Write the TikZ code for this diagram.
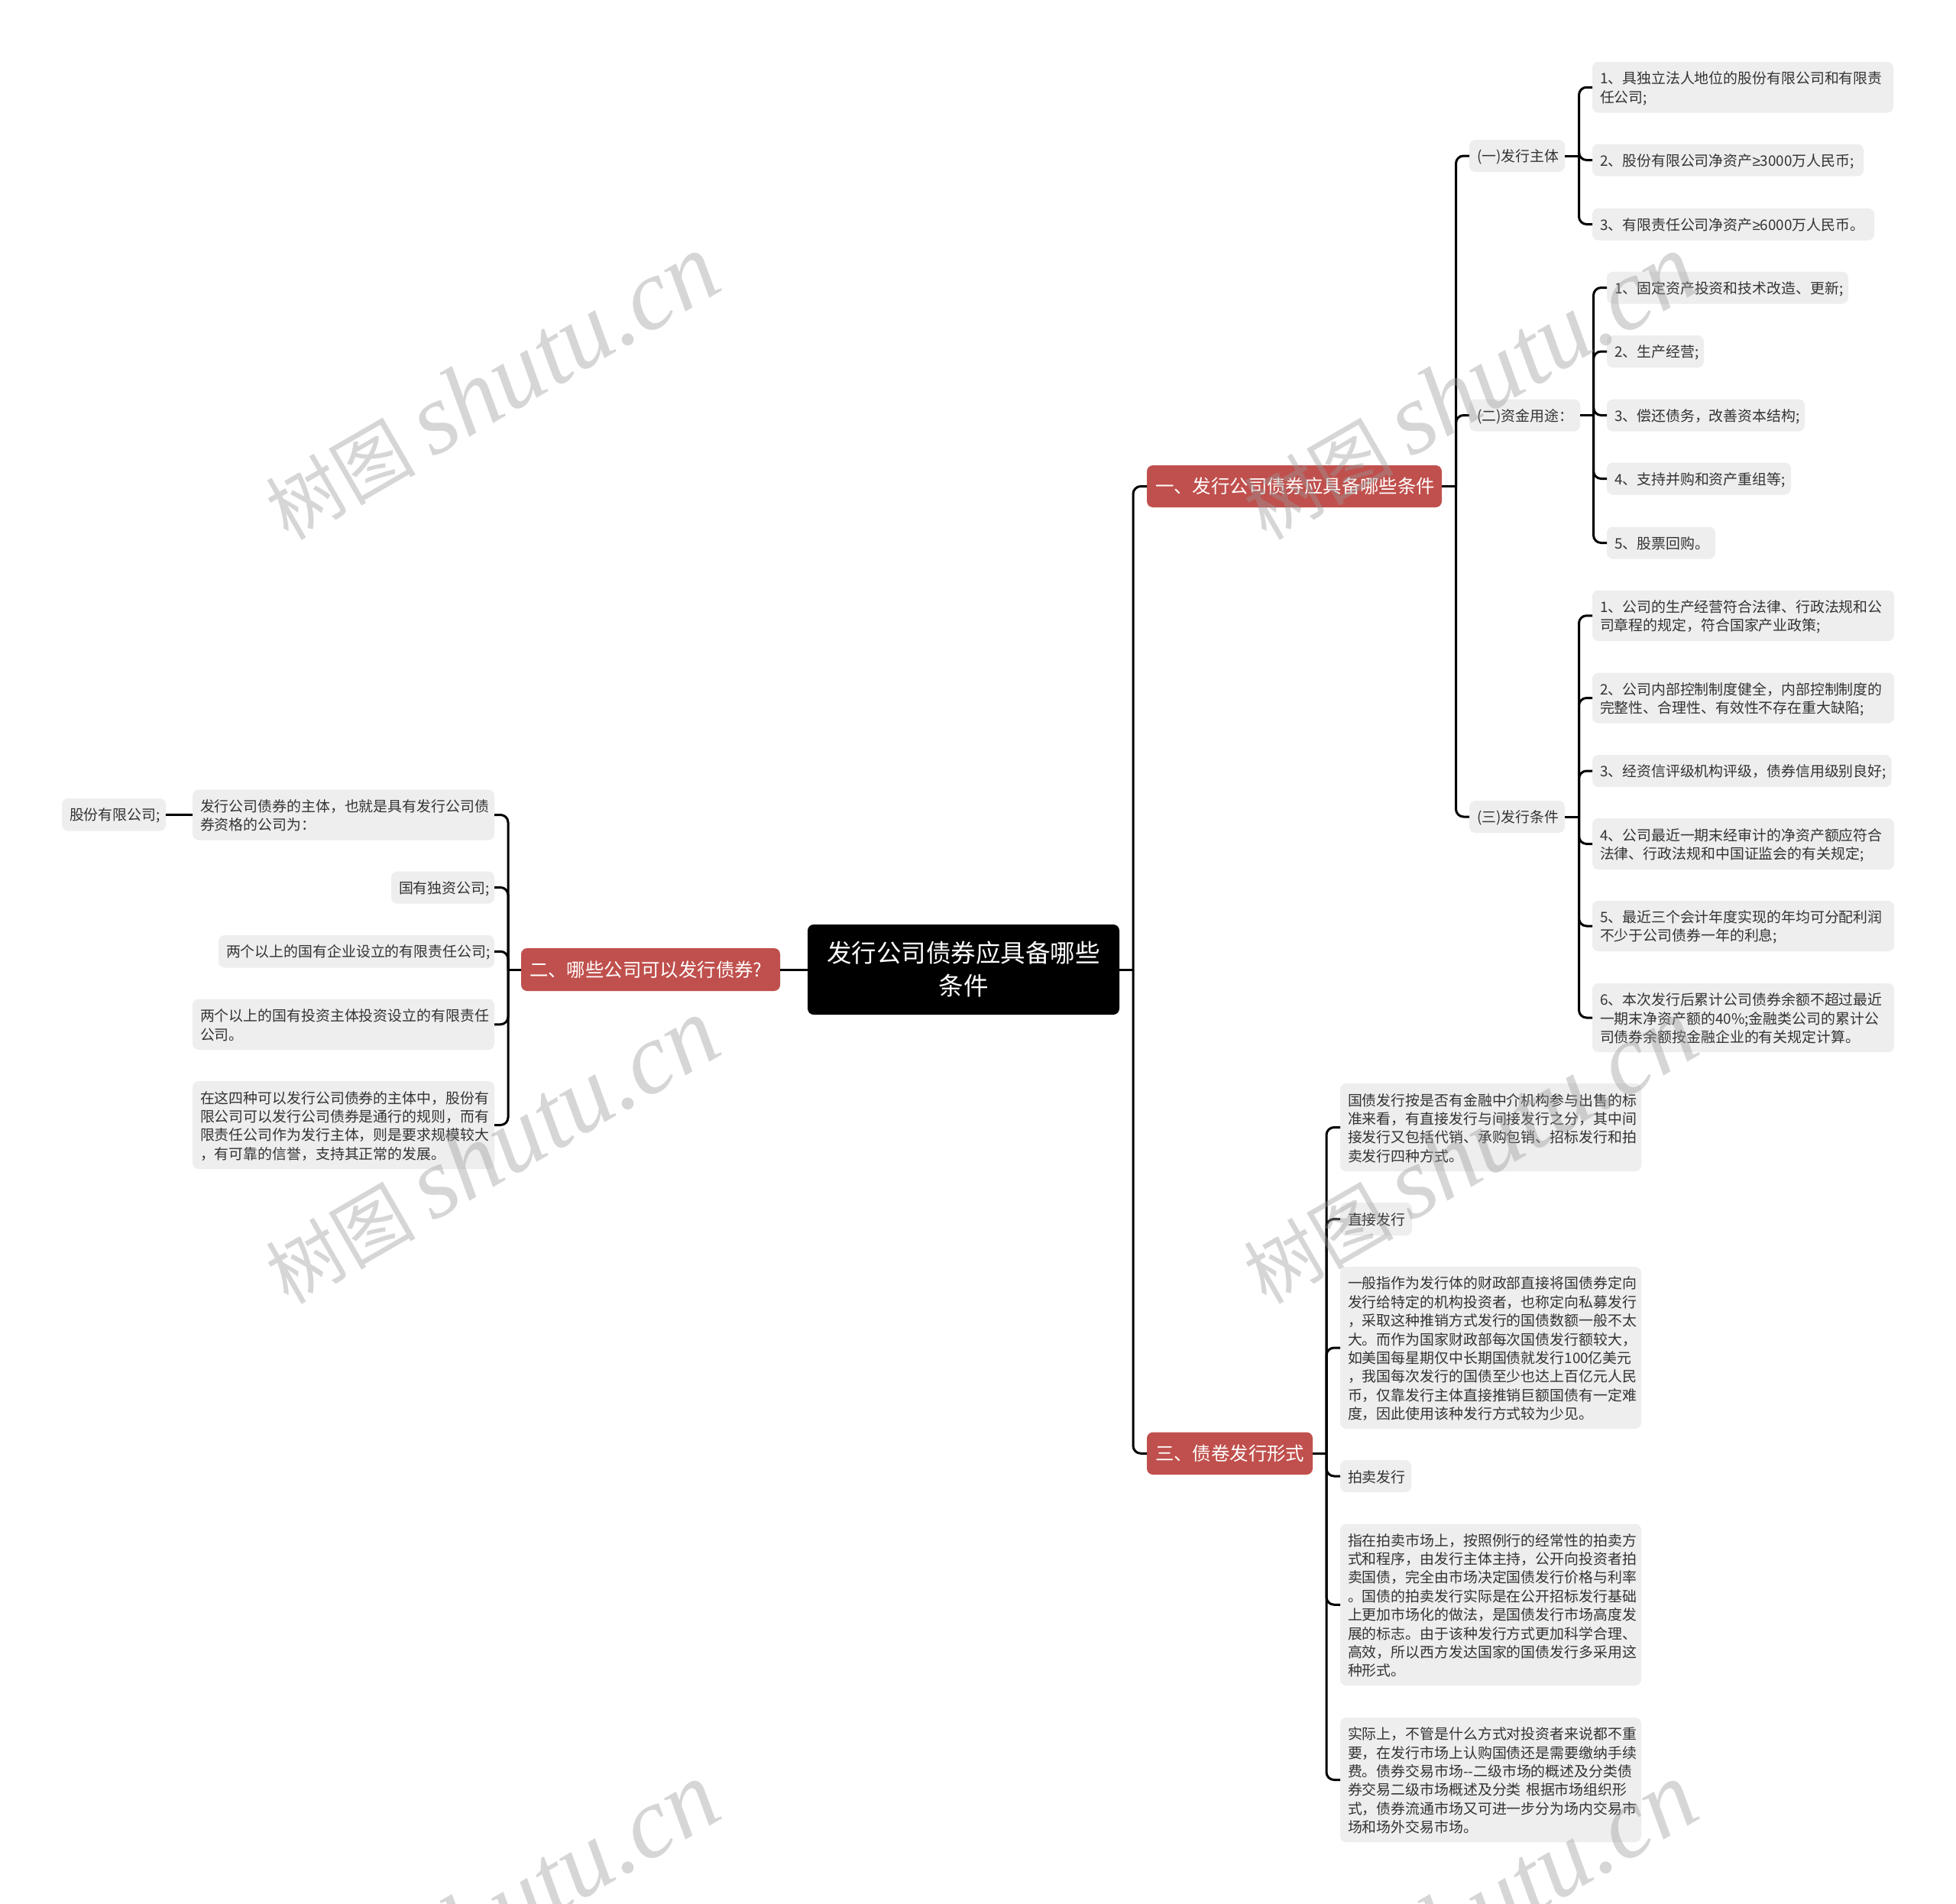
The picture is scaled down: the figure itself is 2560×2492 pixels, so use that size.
\documentclass[tikz,border=0pt]{standalone}
\usepackage{fontspec}
\setmainfont{Noto Sans CJK SC}
\newfontface\wmface{Liberation Serif Italic}
\newfontface\symface{Liberation Sans}
\usetikzlibrary{calc}
\definecolor{leaffill}{HTML}{EEEEEE}
\definecolor{leaftext}{HTML}{333333}
\definecolor{redfill}{HTML}{C0504D}
\definecolor{wmgray}{HTML}{999999}
\hfuzz=50pt
\hbadness=10000
\tikzset{
  boxbase/.style={rounded corners=8pt,inner xsep=0pt,inner ysep=0pt,outer sep=0pt,align=left},
  leafbox/.style={boxbase,fill=leaffill,text=leaftext,font=\fontsize{18.9}{24.4}\selectfont},
  redbox/.style={boxbase,fill=redfill,text=white,font=\fontsize{24.4}{30}\selectfont},
  rootbox/.style={boxbase,fill=black,text=white,align=center,font=\fontsize{32.5}{43}\selectfont},
  linkline/.style={line width=3pt,black},
  wmark/.style={rotate=30,text=wmgray,opacity=0.4,text opacity=0.4,inner sep=0pt}
}
\newcommand{\mmbox}[8]{% style, name, x0,y0,x1,y1,pad,text
  \pgfmathsetmacro{\mmcx}{(#3+#5)/2}
  \pgfmathsetmacro{\mmcy}{(#4+#6)/2}
  \pgfmathsetmacro{\mmw}{#5-#3}
  \pgfmathsetmacro{\mmh}{#6-#4}
  \pgfmathsetmacro{\mmt}{#5-#3-2*#7}
  \node[#1,minimum width=\mmw pt,minimum height=\mmh pt,text width=\mmt pt] (#2) at (\mmcx,\mmcy) {#8};
}
\newcommand{\leafstrut}{\rule[-2.5pt]{0pt}{21.5pt}}
\newcommand{\leaf}[6]{\mmbox{leafbox}{#1}{#2}{#3}{#4}{#5}{10}{\leafstrut #6\leafstrut}}
\newcommand{\redn}[6]{\mmbox{redbox}{#1}{#2}{#3}{#4}{#5}{11}{#6}}
\newcommand{\bridge}[3]{%
  \draw[linkline] (#1) -- (#1 -| #3);
  \draw[linkline,rounded corners=10pt] (#1 -| #3) |- (#2);
}
\newcommand{\gesym}{{\symface ≥}}
\newcommand{\wmk}[3]{\node[wmark] (#1) at (#2,#3) {\fontsize{98}{108}\selectfont 树图 \wmface\fontsize{132}{136}\selectfont shutu.cn};}
\begin{document}
\begin{tikzpicture}[x=1pt,y=-1pt]
\useasboundingbox (0,0) rectangle (2560,2492);
\fill[white] (0,0) rectangle (2560,2492);
\coordinate (busA) at (1483,0);
\coordinate (busB) at (665,0);
\coordinate (busC) at (1905.5,0);
\coordinate (busD) at (2066.5,0);
\coordinate (busE) at (2085.5,0);
\coordinate (busF) at (2066.5,0);
\coordinate (busG) at (1736,0);

\mmbox{rootbox}{root}{1057}{1210}{1465}{1328}{20}{发行公司债券应具备哪些\\条件}

\redn{ra}{1501}{609}{1887}{664}{一、发行公司债券应具备哪些条件}
\redn{rb}{682}{1241}{1021}{1297}{二、哪些公司可以发行债券?}
\redn{rc}{1501}{1874.5}{1718}{1930}{三、债卷发行形式}

\leaf{sa}{1923}{183}{2048}{225}{(一)发行主体}
\leaf{sb}{1923}{522.5}{2068}{564.5}{(二)资金用途：}
\leaf{sc}{1923}{1048}{2048}{1090}{(三)发行条件}

\leaf{aa}{2084}{81}{2478}{147.5}{1、具独立法人地位的股份有限公司和有限责\\任公司;}
\leaf{ab}{2084}{188.5}{2439}{230.5}{2、股份有限公司净资产\gesym 3000万人民币;}
\leaf{ac}{2084}{272.5}{2453}{314.5}{3、有限责任公司净资产\gesym 6000万人民币。}

\leaf{ba}{2103}{355.5}{2419}{397.5}{1、固定资产投资和技术改造、更新;}
\leaf{bb}{2103}{439}{2230}{481}{2、生产经营;}
\leaf{bc}{2103}{522.5}{2362}{564.5}{3、偿还债务，改善资本结构;}
\leaf{bd}{2103}{605.5}{2344}{647.5}{4、支持并购和资产重组等;}
\leaf{be}{2103}{689.5}{2245}{731.5}{5、股票回购。}

\leaf{ca}{2084}{772.5}{2479}{839}{1、公司的生产经营符合法律、行政法规和公\\司章程的规定，符合国家产业政策;}
\leaf{cb}{2084}{880.5}{2479}{946.5}{2、公司内部控制制度健全，内部控制制度的\\完整性、合理性、有效性不存在重大缺陷;}
\leaf{cc}{2084}{988}{2475.5}{1030}{3、经资信评级机构评级，债券信用级别良好;}
\leaf{cd}{2084}{1071}{2479}{1138}{4、公司最近一期末经审计的净资产额应符合\\法律、行政法规和中国证监会的有关规定;}
\leaf{ce}{2084}{1179}{2479}{1245}{5、最近三个会计年度实现的年均可分配利润\\不少于公司债券一年的利息;}
\leaf{cf}{2084}{1287}{2479}{1377}{6、本次发行后累计公司债券余额不超过最近\\一期末净资产额的40\%;金融类公司的累计公\\司债券余额按金融企业的有关规定计算。}

\leaf{ga}{81}{1045}{217}{1087.5}{股份有限公司;}
\leaf{la}{252}{1033.5}{647}{1099.5}{发行公司债券的主体，也就是具有发行公司债\\券资格的公司为：}
\leaf{lb}{512}{1140.5}{647}{1182.5}{国有独资公司;}
\leaf{lc}{286}{1224}{647}{1266.5}{两个以上的国有企业设立的有限责任公司;}
\leaf{ld}{252}{1307.5}{647}{1374}{两个以上的国有投资主体投资设立的有限责任\\公司。}
\leaf{le}{252}{1415}{647}{1530}{在这四种可以发行公司债券的主体中，股份有\\限公司可以发行公司债券是通行的规则，而有\\限责任公司作为发行主体，则是要求规模较大\\，有可靠的信誉，支持其正常的发展。}

\leaf{ma}{1754}{1418}{2148}{1533}{国债发行按是否有金融中介机构参与出售的标\\准来看，有直接发行与间接发行之分，其中间\\接发行又包括代销、承购包销、招标发行和拍\\卖发行四种方式。}
\leaf{mb}{1754}{1574}{1848}{1617}{直接发行}
\leaf{mc}{1754}{1658}{2148}{1870}{一般指作为发行体的财政部直接将国债券定向\\发行给特定的机构投资者，也称定向私募发行\\，采取这种推销方式发行的国债数额一般不太\\大。而作为国家财政部每次国债发行额较大，\\如美国每星期仅中长期国债就发行100亿美元\\，我国每次发行的国债至少也达上百亿元人民\\币，仅靠发行主体直接推销巨额国债有一定难\\度，因此使用该种发行方式较为少见。}
\leaf{md}{1754}{1911}{1847}{1953}{拍卖发行}
\leaf{me}{1754}{1994.5}{2148}{2206}{指在拍卖市场上，按照例行的经常性的拍卖方\\式和程序，由发行主体主持，公开向投资者拍\\卖国债，完全由市场决定国债发行价格与利率\\。国债的拍卖发行实际是在公开招标发行基础\\上更加市场化的做法，是国债发行市场高度发\\展的标志。由于该种发行方式更加科学合理、\\高效，所以西方发达国家的国债发行多采用这\\种形式。}
\leaf{mf}{1754}{2248}{2148}{2411}{实际上，不管是什么方式对投资者来说都不重\\要，在发行市场上认购国债还是需要缴纳手续\\费。债券交易市场-{}-二级市场的概述及分类债\\券交易二级市场概述及分类 根据市场组织形\\式，债券流通市场又可进一步分为场内交易市\\场和场外交易市场。}

\draw[linkline] (root.west) -- (rb.east);
\bridge{root.east}{ra.west}{busA}
\bridge{root.east}{rc.west}{busA}
\bridge{rb.west}{la.east}{busB}
\bridge{rb.west}{lb.east}{busB}
\bridge{rb.west}{lc.east}{busB}
\bridge{rb.west}{ld.east}{busB}
\bridge{rb.west}{le.east}{busB}
\draw[linkline] (la.west) -- (ga.east);
\bridge{ra.east}{sa.west}{busC}
\bridge{ra.east}{sb.west}{busC}
\bridge{ra.east}{sc.west}{busC}
\bridge{sa.east}{aa.west}{busD}
\bridge{sa.east}{ab.west}{busD}
\bridge{sa.east}{ac.west}{busD}
\bridge{sb.east}{ba.west}{busE}
\bridge{sb.east}{bb.west}{busE}
\bridge{sb.east}{bc.west}{busE}
\bridge{sb.east}{bd.west}{busE}
\bridge{sb.east}{be.west}{busE}
\bridge{sc.east}{ca.west}{busF}
\bridge{sc.east}{cb.west}{busF}
\bridge{sc.east}{cc.west}{busF}
\bridge{sc.east}{cd.west}{busF}
\bridge{sc.east}{ce.west}{busF}
\bridge{sc.east}{cf.west}{busF}
\bridge{rc.east}{ma.west}{busG}
\bridge{rc.east}{mb.west}{busG}
\bridge{rc.east}{mc.west}{busG}
\bridge{rc.east}{md.west}{busG}
\bridge{rc.east}{me.west}{busG}
\bridge{rc.east}{mf.west}{busG}

\wmk{wa}{643}{507}
\wmk{wb}{1923}{507}
\wmk{wc}{643}{1507}
\wmk{wd}{1923}{1507}
\wmk{we}{643}{2507}
\wmk{wf}{1923}{2507}
\end{tikzpicture}
\end{document}
